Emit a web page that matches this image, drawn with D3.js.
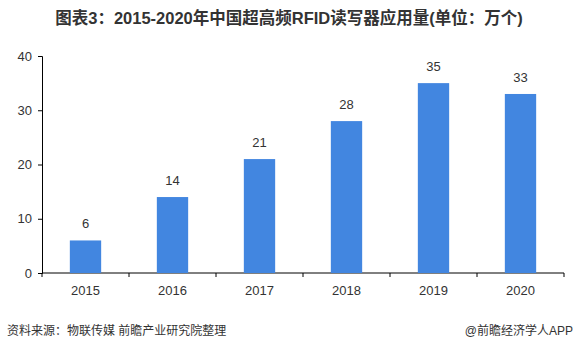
<!DOCTYPE html>
<html>
<head>
<meta charset="utf-8">
<script src="https://cdn.jsdelivr.net/npm/d3@7"></script>
<style>
  body { margin:0; background:#fff; }
  svg { display:block; font-family:"Liberation Sans", Arial, "Noto Sans CJK SC", sans-serif; }
</style>
</head>
<body>
<div id="chart"></div>
<script>
const years = ["2015", "2016", "2017", "2018", "2019", "2020"];
const values = [6, 14, 21, 28, 35, 33];
const yTicks = [0, 10, 20, 30, 40];
const titleText = "图表3：2015-2020年中国超高频RFID读写器应用量(单位：万个)";
const sourceText = "资料来源：物联传媒 前瞻产业研究院整理";
const brandText = "@前瞻经济学人APP";

const W = 578, H = 354;
const margin = { top: 56, right: 14, bottom: 81, left: 42 };
const innerW = W - margin.left - margin.right;
const innerH = H - margin.top - margin.bottom;

const svg = d3.select("#chart").append("svg").attr("width", W).attr("height", H);

svg.append("text")
  .attr("x", 289).attr("y", 24)
  .attr("text-anchor", "middle")
  .attr("font-size", 16.5).attr("font-weight", "bold")
  .attr("fill", "#333")
  .text(titleText);

const g = svg.append("g").attr("transform", `translate(${margin.left},${margin.top})`);

const x = d3.scaleBand().domain(years).range([0, innerW]).paddingInner(0.64).paddingOuter(0.32);
const y = d3.scaleLinear().domain([0, 40]).range([innerH, 0]);

// y axis
const ya = g.append("g")
  .call(d3.axisLeft(y).tickValues(yTicks).tickSize(4).tickPadding(6));
ya.select(".domain").attr("stroke", "#000");
ya.selectAll("line").attr("stroke", "#000");
ya.selectAll("text").attr("font-size", 13).attr("fill", "#333").attr("font-family", "Liberation Sans, Arial, sans-serif");

// x axis, ticks on band boundaries
const xa = g.append("g").attr("transform", `translate(0,${innerH})`);
xa.append("line").attr("x1", 0).attr("x2", innerW).attr("stroke", "#000");
const bounds = d3.range(years.length + 1).map(i => i * innerW / years.length);
xa.selectAll(".tk").data(bounds).join("line")
  .attr("x1", d => d).attr("x2", d => d).attr("y1", 0).attr("y2", 4).attr("stroke", "#000");
xa.selectAll(".lbl").data(years).join("text")
  .attr("x", d => x(d) + x.bandwidth() / 2)
  .attr("y", 22)
  .attr("text-anchor", "middle")
  .attr("font-size", 13).attr("fill", "#333")
  .text(d => d);

const data = years.map((yr, i) => ({ yr, v: values[i] }));

g.selectAll(".bar").data(data).join("rect")
  .attr("x", d => x(d.yr))
  .attr("y", d => y(d.v))
  .attr("width", x.bandwidth())
  .attr("height", d => innerH - y(d.v))
  .attr("fill", "#4286E0");

g.selectAll(".val").data(data).join("text")
  .attr("x", d => x(d.yr) + x.bandwidth() / 2)
  .attr("y", d => y(d.v) - 12)
  .attr("text-anchor", "middle")
  .attr("font-size", 13).attr("fill", "#333")
  .text(d => d.v);

svg.append("text")
  .attr("x", 7).attr("y", 335)
  .attr("font-size", 12).attr("fill", "#333")
  .text(sourceText);

svg.append("text")
  .attr("x", 573).attr("y", 335)
  .attr("text-anchor", "end")
  .attr("font-size", 12).attr("fill", "#333")
  .text(brandText);
</script>
</body>
</html>
